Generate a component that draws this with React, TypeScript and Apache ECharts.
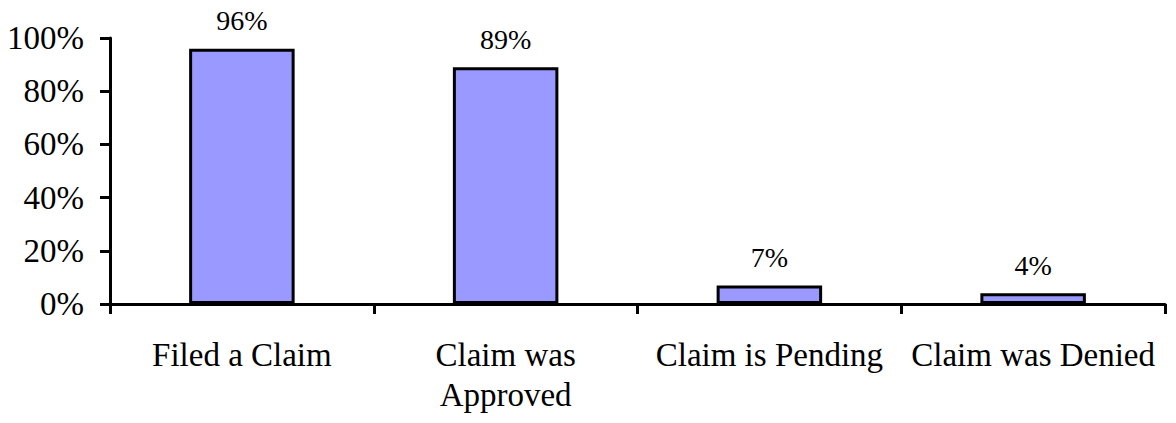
import React, { useEffect, useRef } from "react";
import * as echarts from "echarts";

const categories = ["Filed a Claim", "Claim was\nApproved", "Claim is Pending", "Claim was Denied"];
const values = [96, 89, 7, 4];
const yTicks = [0, 20, 40, 60, 80, 100];

const FONT = "'Liberation Serif', 'Times New Roman', serif";

export default function App() {
  const ref = useRef<HTMLDivElement>(null);
  useEffect(() => {
    if (!ref.current) return;
    const chart = echarts.init(ref.current, undefined, { renderer: "svg" });
    chart.setOption({
      animation: false,
      backgroundColor: "#ffffff",
      grid: { left: 110, right: 11, top: 38, bottom: 119, containLabel: false },
      xAxis: {
        type: "category",
        data: categories,
        axisLine: { lineStyle: { color: "#000", width: 3 } },
        axisTick: { show: true, length: 10, lineStyle: { color: "#000", width: 3 } },
        axisLabel: {
          color: "#000",
          fontFamily: FONT,
          fontSize: 33,
          margin: 31,
          lineHeight: 40,
          interval: 0,
        },
      },
      yAxis: {
        type: "value",
        min: yTicks[0],
        max: yTicks[yTicks.length - 1],
        interval: 20,
        splitLine: { show: false },
        axisLine: { show: true, lineStyle: { color: "#000", width: 3 } },
        axisTick: { show: true, length: 10, lineStyle: { color: "#000", width: 3 } },
        axisLabel: {
          color: "#000",
          fontFamily: FONT,
          fontSize: 33,
          margin: 26,
          formatter: (v: number) => v + "%",
        },
      },
      series: [
        {
          type: "bar",
          data: values,
          barWidth: "40%",
          itemStyle: { color: "#9999FF", borderColor: "#000", borderWidth: 3 },
          label: {
            show: true,
            position: "top",
            distance: 14,
            color: "#000",
            fontFamily: FONT,
            fontSize: 28,
            formatter: (p: any) => p.value + "%",
          },
        },
      ],
    });
    return () => chart.dispose();
  }, []);
  return <div ref={ref} style={{ width: 1176, height: 423, position: "absolute", left: 0, top: 0 }} />;
}
